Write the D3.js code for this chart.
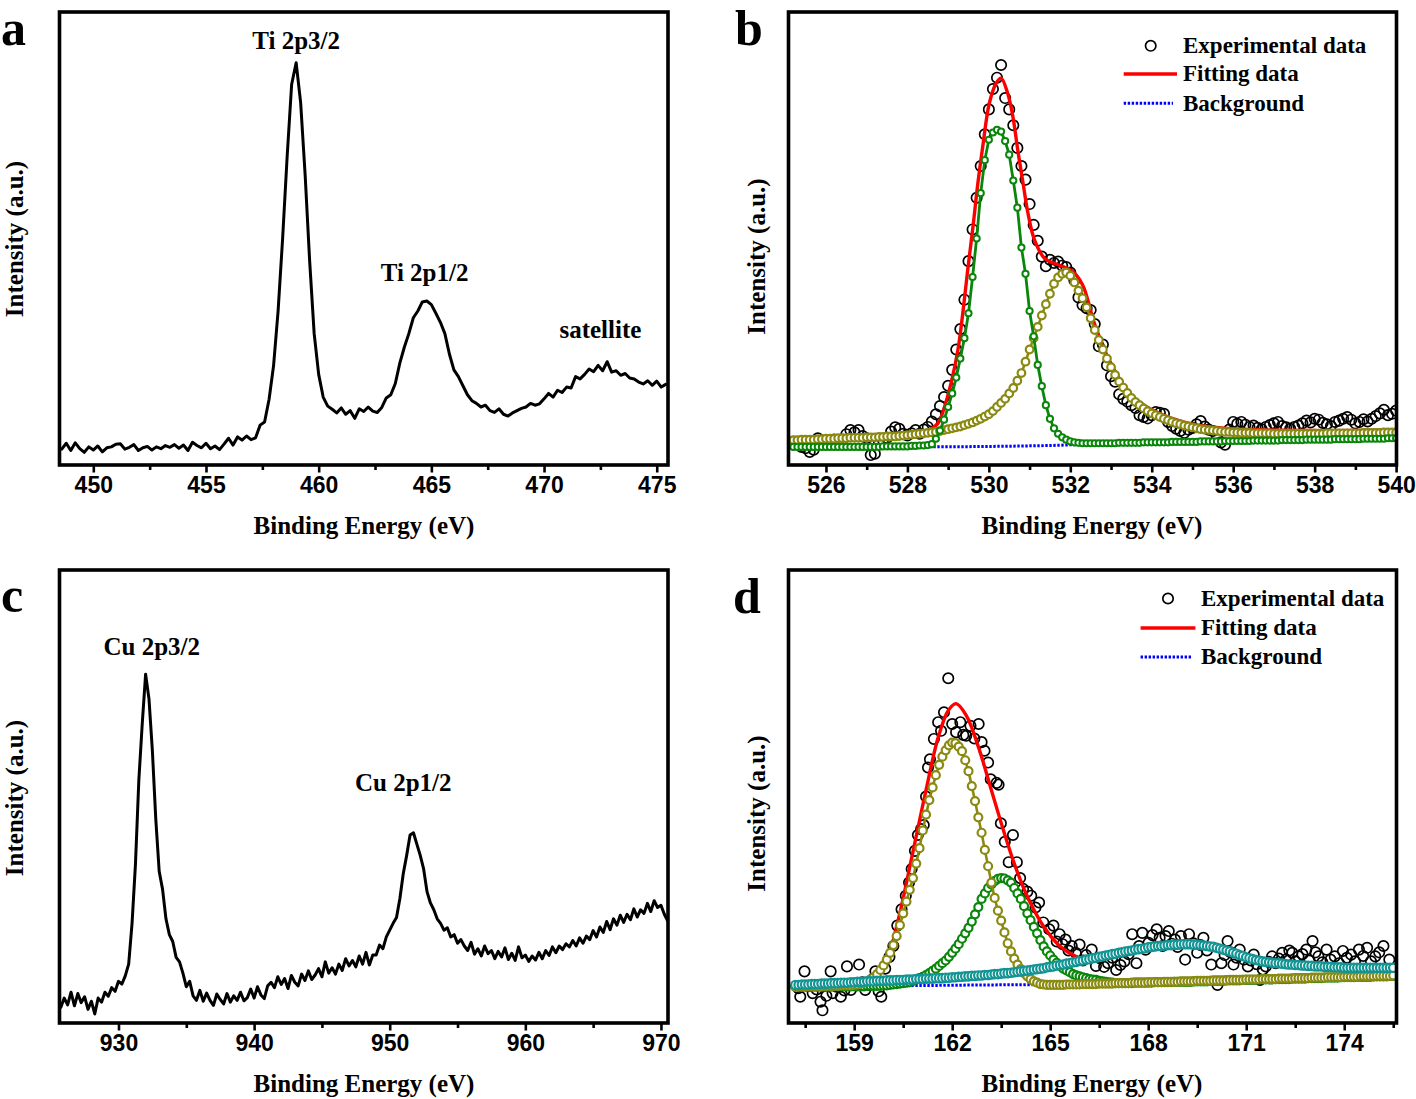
<!DOCTYPE html>
<html><head><meta charset="utf-8">
<script src="https://cdn.jsdelivr.net/npm/d3@7"></script>
<style>body{margin:0;background:#fff}svg{display:block}</style>
</head><body>
<script>
// ---------------- DATA ----------------
// (a) Ti 2p survey, sampled every 0.2 eV from 448.6 eV
const tiStart = 448.6, tiStep = 0.2;
const tiIntensity = [3.5,4.8,3.2,4.9,3.6,2.8,4.0,3.3,4.2,2.9,3.8,4.0,4.6,4.7,3.5,3.9,4.5,3.2,3.8,4.1,
3.3,4.0,3.6,4.3,3.9,4.5,3.7,4.4,3.2,5.0,4.3,3.8,4.8,3.6,4.2,3.4,4.6,5.9,4.4,6.2,
5.5,6.4,5.6,6.0,8.8,9.5,14.5,22,34,50,68,84,88.8,80,64,45,29,20,15,13,
12.3,11.5,12.6,11.2,12.0,10.3,12.4,11.8,12.8,11.9,11.6,12.7,14.8,15.5,18,22.5,26,29,32.5,34,
36,36.2,35.4,33.5,31.5,29,24.5,21,19.5,17.5,15.5,14.2,13.6,12.8,13.2,12.0,11.6,12.4,11.2,10.8,
11.5,12.0,12.5,12.8,13.6,13.2,13.5,14.6,15.8,15.0,16.5,16.0,17.2,17.0,19.5,19.0,20.0,21.2,20.6,22.0,
20.8,22.8,20.5,20.8,19.8,20.2,19.2,19.0,18.3,17.9,18.6,17.6,18.5,17.2,17.8];
const tiLabels = [{t:"Ti 2p3/2",e:459.0,v:91.8},{t:"Ti 2p1/2",e:464.7,v:40.6},{t:"satellite",e:472.5,v:28}];

// (c) Cu 2p survey, sampled every 0.25 eV from 925.75 eV
const cuStart = 925.75, cuStep = 0.25;
const cuIntensity = [3.5,5.5,4.0,6.8,3.8,6.5,4.5,5.8,3.0,4.8,2.0,5.5,4.6,6.8,5.9,7.8,7.0,9.2,8.6,10.4,
13.0,22.0,35.0,53.6,66.0,77.0,71.5,60.0,45.0,33.5,29.5,23.0,19.5,18.0,14.5,13.5,11.0,8.0,9.2,6.0,
5.0,7.2,4.8,6.6,5.0,3.9,6.4,5.2,4.2,6.5,4.6,6.0,5.0,6.8,4.9,5.6,7.5,5.5,8.0,6.2,
5.4,8.2,9.0,7.8,10.2,8.5,9.8,7.6,10.5,9.0,8.2,10.8,9.4,11.5,9.6,10.6,12.0,10.2,13.5,11.0,
12.2,10.8,13.0,11.6,14.2,12.6,13.8,12.4,14.8,13.0,15.6,12.8,15.0,15.0,17.2,16.4,19.0,20.5,22.0,23.3,
27.5,33.0,37.0,41.5,42.0,39.5,37.0,34.0,29.0,26.5,25.0,23.0,22.0,20.5,21.0,19.0,19.5,17.6,18.4,17.0,
16.0,17.8,15.2,16.4,14.8,17.0,15.3,16.0,14.2,15.8,14.6,16.6,14.0,15.4,13.8,16.8,14.4,15.0,13.6,14.8,
13.9,15.6,14.2,16.0,14.9,16.8,15.5,17.0,16.2,17.5,16.8,18.2,17.0,18.8,17.6,19.2,18.4,20.4,19.0,21.2,
20.0,22.4,20.6,23.0,21.6,23.8,22.2,24.0,22.8,25.2,23.4,25.0,24.2,26.4,24.6,27.0,25.5,26.0,24.0,22.5];
const cuLabels = [{t:"Cu 2p3/2",e:932.45,v:81.2},{t:"Cu 2p1/2",e:951.0,v:51.2}];

// (b) O 1s, sampled every 0.1 eV from 525.2 eV
const oStart = 525.2, oStep = 0.1;
const oExp = [5.1,4.6,4.0,3.7,2.9,3.4,5.9,5.2,5.5,4.8,5.6,5.3,5.5,6.8,7.7,7.2,7.7,6.4,5.9,2.2,
2.5,4.8,5.5,6.0,7.4,8.3,8.0,6.9,6.5,7.0,7.7,6.9,7.8,8.4,9.6,11.2,13.0,15.0,17.5,21.0,
25.5,30.0,36.5,45.0,52.0,59.0,66.0,73.0,78.5,83.0,85.5,88.3,81.0,78.5,75.0,70.0,66.0,63.0,57.6,53.0,
49.5,46.0,43.9,45.3,44.6,44.9,44.0,43.7,42.5,40.8,37.0,35.3,34.6,34.2,31.1,26.2,26.6,22.0,19.6,18.4,
15.6,14.6,14.0,13.2,12.6,11.0,10.6,10.3,11.0,11.7,11.5,11.3,9.5,8.6,8.0,7.5,7.1,7.8,8.2,9.0,
9.7,8.5,7.8,7.5,6.2,5.0,4.5,7.8,9.5,9.1,9.5,8.9,8.4,8.7,8.2,7.9,8.4,8.8,9.2,9.5,
8.6,8.3,8.0,8.4,8.7,9.2,9.8,9.4,10.2,10.0,9.3,9.0,8.6,9.5,9.8,10.2,10.6,10.0,9.2,9.5,
10.1,9.6,10.2,10.8,11.4,12.2,11.0,11.3,12.0];
const oPeak1 = [4.0,4.0,4.0,4.0,4.0,4.0,4.0,4.0,
4.0,4.0,4.0,4.0,4.0,4.0,4.0,4.0,4.0,4.0,
4.0,4.0,4.0,4.0,4.1,4.1,4.1,4.1,4.1,4.1,
4.1,4.2,4.2,4.3,4.3,4.4,4.6,5.8,7.6,10.0,
12.8,15.8,19.3,23.5,28.0,33.5,41.5,50.0,60.0,67.3,
71.8,73.4,74.0,73.6,71.5,68.5,62.8,56.8,48.0,42.2,
34.0,28.4,22.1,17.4,13.2,10.2,8.1,6.9,6.1,5.6,
5.2,5.0,4.9,4.8,4.8,4.8,4.8,4.8,4.8,4.8,
4.8,4.8,4.9,4.9,4.9,4.9,4.9,4.9,5.0,5.0,
5.0,5.0,5.0,5.0,5.0,5.1,5.1,5.1,5.1,5.1,
5.1,5.1,5.2,5.2,5.2,5.2,5.2,5.2,5.3,5.3,
5.3,5.3,5.3,5.3,5.3,5.4,5.4,5.4,5.4,5.4,
5.4,5.4,5.5,5.5,5.5,5.5,5.5,5.5,5.6,5.6,
5.6,5.6,5.6,5.6,5.6,5.7,5.7,5.7,5.7,5.7,
5.7,5.7,5.8,5.8,5.8,5.8,5.8,5.8,5.9,5.9,5.9];
const oPeak2 = [5.5,5.5,5.6,5.6,5.6,5.6,5.7,5.7,
5.8,5.8,5.8,5.9,5.9,5.9,6.0,6.0,6.0,6.0,
6.1,6.1,6.1,6.2,6.2,6.3,6.3,6.3,6.4,6.5,
6.6,6.7,6.8,6.9,7.0,7.1,7.2,7.3,7.5,7.7,
7.9,8.1,8.3,8.5,8.8,9.1,9.4,9.8,10.2,10.7,
11.2,11.9,12.8,13.7,14.6,15.8,17.0,18.6,20.3,22.8,
25.5,28.0,30.5,33.0,35.5,37.8,40.0,41.4,42.2,42.5,
41.8,40.3,38.5,36.8,34.8,32.4,29.8,27.6,25.5,23.5,
21.6,19.9,18.4,17.1,15.9,14.8,13.9,13.2,12.5,11.9,
11.4,11.0,10.6,10.2,9.9,9.5,9.2,9.0,8.7,8.5,
8.3,8.1,7.9,7.8,7.7,7.6,7.5,7.4,7.3,7.3,
7.2,7.2,7.1,7.1,7.1,7.0,7.0,7.0,7.0,7.0,
6.9,6.9,6.9,6.9,6.9,6.9,6.9,6.9,6.9,6.9,
6.9,6.9,6.9,7.0,7.0,7.0,7.0,7.0,7.0,7.0,
7.0,7.0,7.1,7.1,7.1,7.1,7.1,7.2,7.2,7.2,7.2];
const oFitE = [525.1,526,527,528,528.5,528.75,528.91,529.07,529.24,529.36,529.48,529.61,529.73,529.85,530.01,530.18,530.3,530.46,530.59,530.71,530.84,530.96,531.12,531.37,531.7,532.02,532.3,532.6,533.0,533.5,534,535,536,538,540];
const oFitI = [5.7,6.0,6.3,6.9,7.7,9.2,12.8,18.0,25.4,33.5,43.0,52.6,62.2,70.3,79.8,84.3,85.4,82.1,76.9,69.5,62.2,55.6,49.7,45.6,44.2,43.0,39.8,31.0,22.3,15.4,12.2,9.0,8.0,7.6,7.8];
const oBgE = [525.1,527,528.5,529.5,530.5,531.5,532.5,534,536,538,540];
const oBgI = [4.0,4.0,4.0,4.05,4.15,4.3,4.6,4.8,5.1,5.4,5.7];

// (d) S 2p, components sampled every 0.1 eV from 157.2 eV
const sStart = 157.2, sStep = 0.1;
const sExpE = [157.29,157.35,157.48,157.6,157.73,157.85,157.97,158.03,158.15,158.28,158.34,158.46,158.59,158.7,158.78,158.9,159.02,159.15,159.25,159.34,
159.45,159.55,159.65,159.75,159.83,159.95,160.08,160.2,160.32,160.45,160.58,160.68,160.76,160.86,160.95,161.05,161.13,161.2,161.26,161.32,
161.44,161.57,161.66,161.75,161.88,162.0,162.12,162.25,162.34,162.43,162.56,162.68,162.81,162.9,162.99,163.1,163.18,163.36,163.42,163.49,
163.61,163.73,163.86,163.98,164.08,164.17,164.3,164.42,164.55,164.66,164.79,164.97,165.1,165.2,165.29,165.38,165.47,165.56,165.66,165.78,
165.9,166.0,166.1,166.27,166.4,166.52,166.65,166.77,166.9,167.02,167.15,167.27,167.4,167.51,167.64,167.72,167.82,167.92,168.01,168.13,
168.26,168.35,168.44,168.53,168.63,168.72,168.82,168.9,169.0,169.13,169.25,169.38,169.5,169.6,169.69,169.8,169.93,170.12,170.24,170.34,
170.43,170.52,170.61,170.7,170.8,170.93,171.05,171.14,171.23,171.32,171.42,171.51,171.6,171.69,171.79,171.9,172.0,172.1,172.22,172.32,
172.41,172.5,172.6,172.72,172.84,172.93,173.03,173.12,173.21,173.33,173.46,173.58,173.71,173.84,173.96,174.08,174.21,174.33,174.45,174.58,
174.7,174.82,174.95,175.07,175.2,175.38];
const sExpI = [7.7,5.8,11.4,8.2,6.6,7.4,4.7,2.8,6.0,11.4,6.6,8.0,5.8,7.2,12.5,7.3,8.6,12.9,9.0,7.3,
8.4,9.6,11.4,7.0,5.8,12.0,14.6,17.0,21.5,25.1,28.1,31.0,34.0,38.0,41.5,42.8,43.7,50.0,56.4,58.2,
62.7,66.4,64.5,68.6,76.1,66.0,64.2,66.4,63.6,63.4,65.6,62.8,66.0,62.0,60.1,57.5,53.8,53.0,52.6,44.1,
40.0,35.5,41.5,35.5,32.0,29.6,29.0,28.1,25.5,26.6,22.2,20.7,21.5,18.0,19.6,17.4,18.4,16.0,17.0,15.5,
17.3,13.8,15.0,16.2,12.6,14.3,12.4,13.2,14.4,11.7,12.8,13.6,15.2,19.6,13.2,17.0,19.9,16.2,17.7,19.4,
20.7,18.8,17.0,19.2,20.3,17.5,18.4,16.8,19.2,14.0,19.6,17.6,15.5,17.2,18.8,16.0,12.9,8.4,13.2,15.0,
18.1,15.6,12.9,14.4,16.2,14.0,12.5,13.8,15.1,13.0,9.5,11.8,12.5,13.5,14.7,13.2,14.2,15.5,14.0,16.0,
15.5,13.6,14.7,15.2,16.2,13.8,18.1,15.6,14.7,13.4,16.2,14.0,14.7,13.2,15.9,14.4,15.1,13.6,16.2,14.8,
16.6,13.6,14.7,15.6,17.0,14.0];
const sPeak1 = [8.0,8.0,8.0,8.0,8.1,8.1,8.1,8.1,
8.1,8.2,8.2,8.2,8.2,8.2,8.3,8.3,8.3,8.3,
8.4,8.5,8.7,8.9,9.2,9.6,10.1,10.8,11.7,12.7,
14.0,15.5,17.2,19.2,21.6,24.2,26.8,29.4,32.0,35.2,
38.6,42.5,46.0,49.2,52.0,54.7,57.0,58.8,60.2,61.3,
61.9,61.8,61.0,60.0,58.0,55.6,52.3,49.0,45.4,42.0,
38.2,34.6,31.0,27.6,24.8,22.6,20.0,17.6,15.8,14.2,
12.9,11.9,11.0,10.3,9.7,9.2,8.9,8.6,8.5,8.4,
8.4,8.4,8.4,8.4,8.4,8.5,8.5,8.5,8.5,8.5,
8.6,8.6,8.6,8.6,8.6,8.7,8.7,8.7,8.7,8.7,
8.8,8.8,8.8,8.8,8.8,8.9,8.9,8.9,8.9,8.9,
9.0,9.0,9.0,9.0,9.0,9.1,9.1,9.1,9.1,9.1,
9.2,9.2,9.2,9.2,9.2,9.3,9.3,9.3,9.3,9.3,
9.4,9.4,9.4,9.4,9.4,9.5,9.5,9.5,9.5,9.5,
9.6,9.6,9.6,9.6,9.6,9.7,9.7,9.7,9.7,9.7,
9.8,9.8,9.8,9.8,9.8,9.9,9.9,9.9,9.9,9.9,
10.0,10.0,10.0,10.0,10.0,10.1,10.1,10.1,10.1,10.1,
10.2,10.2,10.2,10.2,10.2,10.3,10.3,10.3,10.3,10.3,
10.4,10.4,10.4,10.4,10.4,10.5];
const sPeak2 = [8.0,8.0,8.0,8.0,8.0,8.0,8.0,8.0,
8.0,8.0,8.0,8.0,8.1,8.1,8.1,8.1,8.1,8.1,
8.1,8.1,8.1,8.1,8.2,8.2,8.2,8.2,8.2,8.3,
8.3,8.4,8.5,8.6,8.7,8.8,8.9,9.0,9.3,9.6,
9.9,10.2,10.6,11.0,11.5,12.0,12.6,13.2,13.8,14.6,
15.5,16.4,17.4,18.6,19.8,21.0,22.4,24.0,25.6,27.4,
28.6,29.8,30.6,31.3,31.8,32.0,31.9,31.5,31.0,29.8,
28.6,27.4,25.8,24.2,22.7,21.2,19.8,18.3,16.9,15.8,
14.9,14.0,13.3,12.6,12.0,11.6,11.2,10.8,10.5,10.3,
10.1,9.9,9.7,9.6,9.5,9.3,9.2,9.1,9.0,8.9,
8.8,8.8,8.8,8.8,8.8,8.8,8.9,8.9,8.9,8.9,
8.9,8.9,9.0,9.0,9.0,9.0,9.0,9.0,9.1,9.1,
9.1,9.1,9.1,9.1,9.2,9.2,9.2,9.2,9.2,9.3,
9.3,9.3,9.3,9.3,9.4,9.4,9.4,9.4,9.4,9.5,
9.5,9.5,9.5,9.5,9.6,9.6,9.6,9.6,9.6,9.7,
9.7,9.7,9.7,9.7,9.8,9.8,9.8,9.8,9.8,9.9,
9.9,9.9,9.9,9.9,10.0,10.0,10.0,10.0,10.0,10.1,
10.1,10.1,10.1,10.1,10.2,10.2,10.2,10.2,10.2,10.3,
10.3,10.3,10.3,10.3,10.4,10.4];
const sPeak3 = [8.4,8.4,8.5,8.5,8.5,8.6,8.6,8.6,
8.7,8.7,8.7,8.8,8.8,8.8,8.9,8.9,8.9,9.0,
9.0,9.1,9.1,9.1,9.2,9.2,9.2,9.3,9.3,9.3,
9.4,9.4,9.4,9.5,9.5,9.5,9.6,9.6,9.6,9.7,
9.7,9.7,9.8,9.8,9.8,9.9,9.9,9.9,10.0,10.0,
10.1,10.1,10.2,10.2,10.3,10.3,10.4,10.4,10.5,10.5,
10.6,10.6,10.7,10.8,10.8,10.9,11.0,11.0,11.1,11.2,
11.3,11.4,11.5,11.6,11.7,11.8,11.9,12.0,12.1,12.3,
12.4,12.5,12.7,12.8,12.9,13.1,13.2,13.4,13.5,13.7,
13.8,14.0,14.1,14.3,14.4,14.6,14.7,14.9,15.0,15.2,
15.3,15.5,15.6,15.8,15.9,16.0,16.2,16.3,16.4,16.5,
16.7,16.8,16.9,17.0,17.0,17.1,17.2,17.2,17.3,17.3,
17.4,17.4,17.4,17.4,17.3,17.3,17.2,17.1,17.0,16.9,
16.8,16.6,16.4,16.2,16.0,15.8,15.5,15.3,15.0,14.8,
14.5,14.3,14.1,13.9,13.8,13.6,13.5,13.4,13.3,13.2,
13.2,13.1,13.0,12.9,12.9,12.8,12.8,12.7,12.7,12.6,
12.6,12.5,12.5,12.5,12.4,12.4,12.4,12.3,12.3,12.3,
12.2,12.2,12.2,12.2,12.2,12.2,12.2,12.2,12.2,12.2,
12.2,12.2,12.2,12.2,12.2,12.2];
const sFitE = [157.2,158,159,159.5,160.0,160.33,160.82,161.19,161.57,161.88,162.12,162.43,162.81,163.18,163.55,163.92,164.29,164.79,165.29,165.78,166.15,166.5,167,168,169,170,171,172,173,174,175.5];
const sFitI = [8.2,8.4,8.7,9.8,14.2,22.2,38.5,51.1,63.0,69.0,70.5,67.9,60.8,51.9,43.0,34.8,28.1,21.4,17.0,14.7,14.0,14.4,15.6,17.2,17.6,17.1,15.0,13.5,12.8,12.5,12.4];
const sBgE = [157.2,160,163,165,168,171,175.5];
const sBgI = [8.0,8.2,8.4,8.5,8.9,9.4,10.2];

const legendItems = ["Experimental data","Fitting data","Background"];

// ---------------- DRAWING ----------------
const W = 1416, H = 1099;
const SERIF = '"Liberation Serif","Times New Roman",Times,serif';
const SANS = '"Liberation Sans",Arial,Helvetica,sans-serif';
const C = {red:"#ff0000", blue:"#0000ff", green:"#0a860a", olive:"#8a8a12", teal:"#129494"};

const svg = d3.select("body").append("svg").attr("width", W).attr("height", H);
svg.append("rect").attr("width", W).attr("height", H).attr("fill", "#fff");
const defs = svg.append("defs");

const gridOf = (start, step, n) => d3.range(n).map(i => +(start + i * step).toFixed(3));

function makePanel(p) {
  const x = d3.scaleLinear().domain(p.xDomain).range([p.x0, p.x1]);
  const y = d3.scaleLinear().domain([0, 100]).range([p.y1, p.y0]);
  defs.append("clipPath").attr("id", "clip" + p.id).append("rect")
    .attr("x", p.x0).attr("y", p.y0).attr("width", p.x1 - p.x0).attr("height", p.y1 - p.y0);
  const g = svg.append("g");
  const plot = g.append("g").attr("clip-path", `url(#clip${p.id})`);

  const axMinor = d3.axisBottom(x).tickValues(p.minor).tickSize(5).tickFormat("");
  const axMajor = d3.axisBottom(x).tickValues(p.major).tickSize(7.5).tickPadding(4.5).tickFormat(d3.format("d"));
  [axMinor, axMajor].forEach(ax => {
    const a = g.append("g").attr("transform", `translate(0,${p.y1})`).call(ax);
    a.select(".domain").remove();
    a.selectAll(".tick line").attr("stroke", "#000").attr("stroke-width", 2.6);
    a.selectAll(".tick text").attr("fill", "#000").style("font-family", SANS)
      .style("font-weight", "bold").style("font-size", "23px");
  });

  g.append("rect").attr("x", p.x0).attr("y", p.y0).attr("width", p.x1 - p.x0).attr("height", p.y1 - p.y0)
    .attr("fill", "none").attr("stroke", "#000").attr("stroke-width", 3.6);

  g.append("text").attr("x", p.letter[0]).attr("y", p.letter[1]).text(p.id)
    .style("font-family", SERIF).style("font-weight", "bold").style("font-size", "50px");
  g.append("text").attr("transform", `translate(${p.yTitle[0]},${p.yTitle[1]}) rotate(-90)`)
    .attr("text-anchor", "middle").text("Intensity (a.u.)")
    .style("font-family", SERIF).style("font-weight", "bold").style("font-size", "25px");
  g.append("text").attr("x", p.xTitle[0]).attr("y", p.xTitle[1]).attr("text-anchor", "middle")
    .text("Binding Energy (eV)")
    .style("font-family", SERIF).style("font-weight", "bold").style("font-size", "25px");
  return {x, y, g, plot};
}

function addLabels(P, labels) {
  labels.forEach(l => P.g.append("text").attr("x", P.x(l.e)).attr("y", P.y(l.v))
    .attr("text-anchor", "middle").text(l.t)
    .style("font-family", SERIF).style("font-weight", "bold").style("font-size", "25px"));
}

function lineSeries(P, E, I, color, width, curve, dash) {
  const ln = d3.line().x(d => P.x(d[0])).y(d => P.y(d[1])).curve(curve || d3.curveLinear);
  const path = P.plot.append("path").datum(E.map((e, i) => [e, I[i]]))
    .attr("d", ln).attr("fill", "none").attr("stroke", color).attr("stroke-width", width)
    .attr("stroke-linejoin", "round").attr("stroke-linecap", "round");
  if (dash) path.attr("stroke-dasharray", dash).attr("stroke-linecap", "butt");
}

function markedSeries(P, E, I, color, r, sw, lw) {
  lineSeries(P, E, I, color, lw);
  P.plot.append("g").selectAll("circle").data(E.map((e, i) => [e, I[i]])).join("circle")
    .attr("cx", d => P.x(d[0])).attr("cy", d => P.y(d[1])).attr("r", r)
    .attr("fill", "#fff").attr("stroke", color).attr("stroke-width", sw);
}

function expCircles(P, E, I) {
  P.plot.append("g").selectAll("circle").data(E.map((e, i) => [e, I[i]])).join("circle")
    .attr("cx", d => P.x(d[0])).attr("cy", d => P.y(d[1])).attr("r", 5.2)
    .attr("fill", "none").attr("stroke", "#000").attr("stroke-width", 1.7);
}

function legend(P, sx, lx0, lx1, tx, ys) {
  const g = P.g;
  g.append("circle").attr("cx", sx).attr("cy", ys[0]).attr("r", 5.2)
    .attr("fill", "none").attr("stroke", "#000").attr("stroke-width", 1.7);
  g.append("line").attr("x1", lx0).attr("x2", lx1).attr("y1", ys[1]).attr("y2", ys[1])
    .attr("stroke", C.red).attr("stroke-width", 3.6);
  g.append("line").attr("x1", lx0).attr("x2", lx1 - 4).attr("y1", ys[2]).attr("y2", ys[2])
    .attr("stroke", C.blue).attr("stroke-width", 3).attr("stroke-dasharray", "2.4,1.6");
  legendItems.forEach((t, i) => g.append("text").attr("x", tx).attr("y", ys[i] + 7.2).text(t)
    .style("font-family", SERIF).style("font-weight", "bold").style("font-size", "23px"));
}

// Panel a
const A = makePanel({id:"a", x0:59.5, x1:668, y0:12, y1:465, xDomain:[448.5,475.5],
  major:[450,455,460,465,470,475], minor:[452.5,457.5,462.5,467.5,472.5],
  letter:[1,45], yTitle:[23,239], xTitle:[364,534]});
lineSeries(A, gridOf(tiStart, tiStep, tiIntensity.length), tiIntensity, "#000", 3);
addLabels(A, tiLabels);

// Panel b
const B = makePanel({id:"b", x0:788.5, x1:1396.5, y0:12, y1:465, xDomain:[525.08,540.01],
  major:[526,528,530,532,534,536,538,540], minor:[527,529,531,533,535,537,539],
  letter:[735,45], yTitle:[765,256.5], xTitle:[1092,534]});
const oGrid = gridOf(oStart, oStep, oExp.length);
expCircles(B, oGrid, oExp);
lineSeries(B, oFitE, oFitI, C.red, 3.4, d3.curveCatmullRom.alpha(0.5));
lineSeries(B, oBgE, oBgI, C.blue, 3, d3.curveLinear, "2.4,1.6");
markedSeries(B, gridOf(oStart, oStep, oPeak2.length), oPeak2, C.olive, 3.8, 2.2, 2.6);
markedSeries(B, gridOf(oStart, oStep, oPeak1.length), oPeak1, C.green, 3.1, 2.0, 2.8);
legend(B, 1150.7, 1123.7, 1177, 1183, [45.8, 74, 103.3]);

// Panel c
const Cc = makePanel({id:"c", x0:59.5, x1:668, y0:570, y1:1023, xDomain:[925.65,970.52],
  major:[930,940,950,960,970], minor:[935,945,955,965],
  letter:[1,612], yTitle:[23,798], xTitle:[364,1092]});
lineSeries(Cc, gridOf(cuStart, cuStep, cuIntensity.length), cuIntensity, "#000", 3);
addLabels(Cc, cuLabels);

// Panel d
const D = makePanel({id:"d", x0:788.5, x1:1396.5, y0:570, y1:1023, xDomain:[156.99,175.6],
  major:[159,162,165,168,171,174], minor:[157.5,160.5,163.5,166.5,169.5,172.5,175.5],
  letter:[733,613], yTitle:[765,813.5], xTitle:[1092,1092]});
expCircles(D, sExpE, sExpI);
lineSeries(D, sFitE, sFitI, C.red, 3.4, d3.curveCatmullRom.alpha(0.5));
lineSeries(D, sBgE, sBgI, C.blue, 3, d3.curveLinear, "2.4,1.6");
markedSeries(D, gridOf(sStart, sStep, sPeak2.length), sPeak2, C.green, 4.0, 2.2, 2.6);
markedSeries(D, gridOf(sStart, sStep, sPeak1.length), sPeak1, C.olive, 4.0, 2.2, 2.6);
markedSeries(D, gridOf(sStart, sStep, sPeak3.length), sPeak3, C.teal, 4.2, 2.2, 2.6);
legend(D, 1168, 1140.6, 1195.4, 1201, [598.5, 628, 657]);
</script>
</body></html>
